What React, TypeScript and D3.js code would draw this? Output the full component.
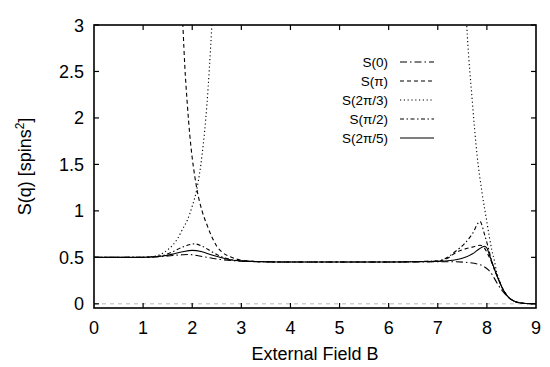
import * as d3 from 'd3';

// field values B and S(q), one pair of arrays per series
const fieldS0 = [0, 0.5, 1.0, 1.2, 1.4, 1.6, 1.8, 1.9, 2.0, 2.1, 2.3, 2.5, 2.8, 3.0, 3.5, 4, 5, 6, 6.5, 7.0, 7.35, 7.6, 7.86, 8.03, 8.1, 8.2, 8.3, 8.4, 8.5, 8.6, 8.7, 8.8, 9.0];
const valuesS0 = [0.5, 0.5, 0.5, 0.503, 0.51, 0.52, 0.528, 0.53, 0.528, 0.52, 0.5, 0.482, 0.465, 0.458, 0.452, 0.45, 0.45, 0.45, 0.45, 0.452, 0.452, 0.445, 0.42, 0.365, 0.32, 0.23, 0.15, 0.09, 0.045, 0.018, 0.007, 0.003, 0.001];

const fieldPi = [1.78, 1.81, 1.85, 1.9, 1.95, 2.0, 2.05, 2.1, 2.2, 2.3, 2.4, 2.5, 2.6, 2.8, 3.0, 3.3, 3.6, 4, 5, 6, 7.0, 7.2, 7.35, 7.5, 7.7, 7.86, 7.95, 8.05, 8.15, 8.2, 8.25, 8.3, 8.35, 8.4, 8.45, 8.5, 8.6, 8.7, 8.8, 9.0];
const valuesPi = [3.4, 3.0, 2.55, 2.15, 1.82, 1.57, 1.38, 1.22, 1.0, 0.85, 0.72, 0.62, 0.56, 0.5, 0.47, 0.455, 0.45, 0.45, 0.45, 0.45, 0.46, 0.49, 0.545, 0.58, 0.61, 0.63, 0.6, 0.5, 0.38, 0.31, 0.245, 0.185, 0.135, 0.095, 0.065, 0.045, 0.02, 0.008, 0.003, 0.001];

const field2Pi3 = [0, 0.5, 1.0, 1.2, 1.3, 1.4, 1.5, 1.6, 1.7, 1.8, 1.9, 2.0, 2.1, 2.2, 2.3, 2.4, 2.45, 5.0, 7.55, 7.6, 7.7, 7.8, 7.9, 8.0, 8.05, 8.1, 8.15, 8.2, 8.25, 8.3, 8.35, 8.4, 8.45, 8.5, 8.6, 8.7, 8.8, 9.0];
const values2Pi3 = [0.5, 0.5, 0.5, 0.51, 0.52, 0.545, 0.58, 0.63, 0.7, 0.8, 0.9, 1.05, 1.25, 1.6, 2.15, 3.0, 3.5, null, 3.4, 2.9, 2.2, 1.6, 1.2, 0.88, 0.72, 0.58, 0.47, 0.34, 0.26, 0.19, 0.135, 0.095, 0.065, 0.045, 0.02, 0.008, 0.003, 0.001];

const fieldPi2 = [0, 0.5, 1.0, 1.2, 1.4, 1.6, 1.8, 1.9, 2.05, 2.2, 2.4, 2.6, 2.8, 3.0, 3.5, 4, 5, 6, 7.0, 7.2, 7.35, 7.55, 7.7, 7.86, 7.95, 8.03, 8.13, 8.2, 8.25, 8.3, 8.35, 8.4, 8.45, 8.5, 8.6, 8.7, 8.8, 9.0];
const valuesPi2 = [0.5, 0.5, 0.5, 0.505, 0.52, 0.56, 0.61, 0.63, 0.645, 0.62, 0.56, 0.505, 0.475, 0.462, 0.453, 0.45, 0.45, 0.45, 0.462, 0.5, 0.56, 0.65, 0.75, 0.885, 0.75, 0.6, 0.4, 0.31, 0.245, 0.185, 0.135, 0.095, 0.065, 0.045, 0.02, 0.008, 0.003, 0.001];

const field2Pi5 = [0, 0.5, 1.0, 1.2, 1.4, 1.6, 1.8, 2.0, 2.2, 2.4, 2.6, 2.8, 3.0, 3.5, 4, 5, 6, 7.0, 7.3, 7.5, 7.7, 7.85, 7.95, 8.0, 8.05, 8.1, 8.15, 8.2, 8.25, 8.3, 8.35, 8.4, 8.45, 8.5, 8.6, 8.7, 8.8, 9.0];
const values2Pi5 = [0.5, 0.5, 0.5, 0.505, 0.515, 0.535, 0.56, 0.575, 0.56, 0.525, 0.495, 0.472, 0.462, 0.453, 0.45, 0.45, 0.45, 0.455, 0.468, 0.49, 0.535, 0.592, 0.62, 0.6, 0.53, 0.455, 0.38, 0.31, 0.245, 0.185, 0.135, 0.095, 0.065, 0.045, 0.02, 0.008, 0.003, 0.001];

const seriesLabels = ['S(0)', 'S(π)', 'S(2π/3)', 'S(π/2)', 'S(2π/5)'];
const xTicks = [0, 1, 2, 3, 4, 5, 6, 7, 8, 9];
const yTicks = [0, 0.5, 1, 1.5, 2, 2.5, 3];

const series = [
  { label: seriesLabels[0], field: fieldS0, values: valuesS0, dash: '7,3,1.5,3' },
  { label: seriesLabels[1], field: fieldPi, values: valuesPi, dash: '4,3' },
  { label: seriesLabels[2], field: field2Pi3, values: values2Pi3, dash: '1.2,2.6' },
  { label: seriesLabels[3], field: fieldPi2, values: valuesPi2, dash: '4,2.5,1.5,2.5' },
  { label: seriesLabels[4], field: field2Pi5, values: values2Pi5, dash: '' },
];

const width = 550;
const height = 367;
const margin = { left: 94, right: 14, top: 25, bottom: 59 };
const font = '"Liberation Sans", Arial, Helvetica, sans-serif';

export default function App() {
  const x = d3.scaleLinear().domain([0, 9]).range([margin.left, width - margin.right]);
  const y = d3.scaleLinear().domain([-0.045, 3]).range([height - margin.bottom, margin.top]);

  const line = d3
    .line<[number, number | null]>()
    .defined((d) => d[1] != null)
    .x((d) => x(d[0]))
    .y((d) => y(d[1] as number))
    .curve(d3.curveMonotoneX);

  const [x0, x1] = x.range();
  const [yb, yt] = y.range();

  return (
    <svg
      width={width}
      height={height}
      style={{ position: 'absolute', left: 0, top: 0, background: '#fff' }}
      fontFamily={font}
    >
      <defs>
        <clipPath id="plot">
          <rect x={x0} y={yt} width={x1 - x0} height={yb - yt} />
        </clipPath>
      </defs>

      {/* zero line */}
      <line x1={x0} x2={x1} y1={y(0)} y2={y(0)} stroke="#bbb" strokeWidth={1} strokeDasharray="4,4" />

      <g clipPath="url(#plot)">
        {series.map((s) => (
          <path
            key={s.label}
            d={line(s.field.map((f, i) => [f, s.values[i]] as [number, number | null])) ?? ''}
            fill="none"
            stroke="#000"
            strokeWidth={1.1}
            strokeDasharray={s.dash || undefined}
          />
        ))}
      </g>

      {/* ticks on all four sides, pointing inward */}
      {xTicks.slice(1, -1).map((t) => (
        <g key={'xt' + t} stroke="#000" strokeWidth={1.2}>
          <line x1={x(t)} x2={x(t)} y1={yb} y2={yb - 5} />
          <line x1={x(t)} x2={x(t)} y1={yt} y2={yt + 5} />
        </g>
      ))}
      {yTicks.map((t) => (
        <g key={'yt' + t} stroke="#000" strokeWidth={1.2}>
          <line x1={x0} x2={x0 + 5} y1={y(t)} y2={y(t)} />
          <line x1={x1} x2={x1 - 5} y1={y(t)} y2={y(t)} />
        </g>
      ))}
      <rect x={x0} y={yt} width={x1 - x0} height={yb - yt} fill="none" stroke="#000" strokeWidth={1.6} />

      {xTicks.map((t) => (
        <text key={'xl' + t} x={x(t)} y={334} textAnchor="middle" fontSize={18} fill="#000">
          {t}
        </text>
      ))}
      {yTicks.map((t) => (
        <text key={'yl' + t} x={84} y={y(t) + 6.5} textAnchor="end" fontSize={18} fill="#000">
          {t}
        </text>
      ))}

      <text x={(x0 + x1) / 2} y={360} textAnchor="middle" fontSize={18} fill="#000">
        External Field B
      </text>
      <text
        transform={`translate(31, ${(yt + yb) / 2}) rotate(-90)`}
        textAnchor="middle"
        fontSize={18}
        fill="#000"
      >
        S(q) [spins<tspan dy={-7} fontSize={12}>2</tspan>
        <tspan dy={7}>]</tspan>
      </text>

      {/* legend */}
      {series.map((s, i) => {
        const ly = 62 + i * 19;
        return (
          <g key={'lg' + s.label}>
            <text x={388} y={ly + 5} textAnchor="end" fontSize={13.5} fill="#000">
              {s.label}
            </text>
            <line
              x1={400}
              x2={434}
              y1={ly}
              y2={ly}
              stroke="#000"
              strokeWidth={1.1}
              strokeDasharray={s.dash || undefined}
            />
          </g>
        );
      })}
    </svg>
  );
}
